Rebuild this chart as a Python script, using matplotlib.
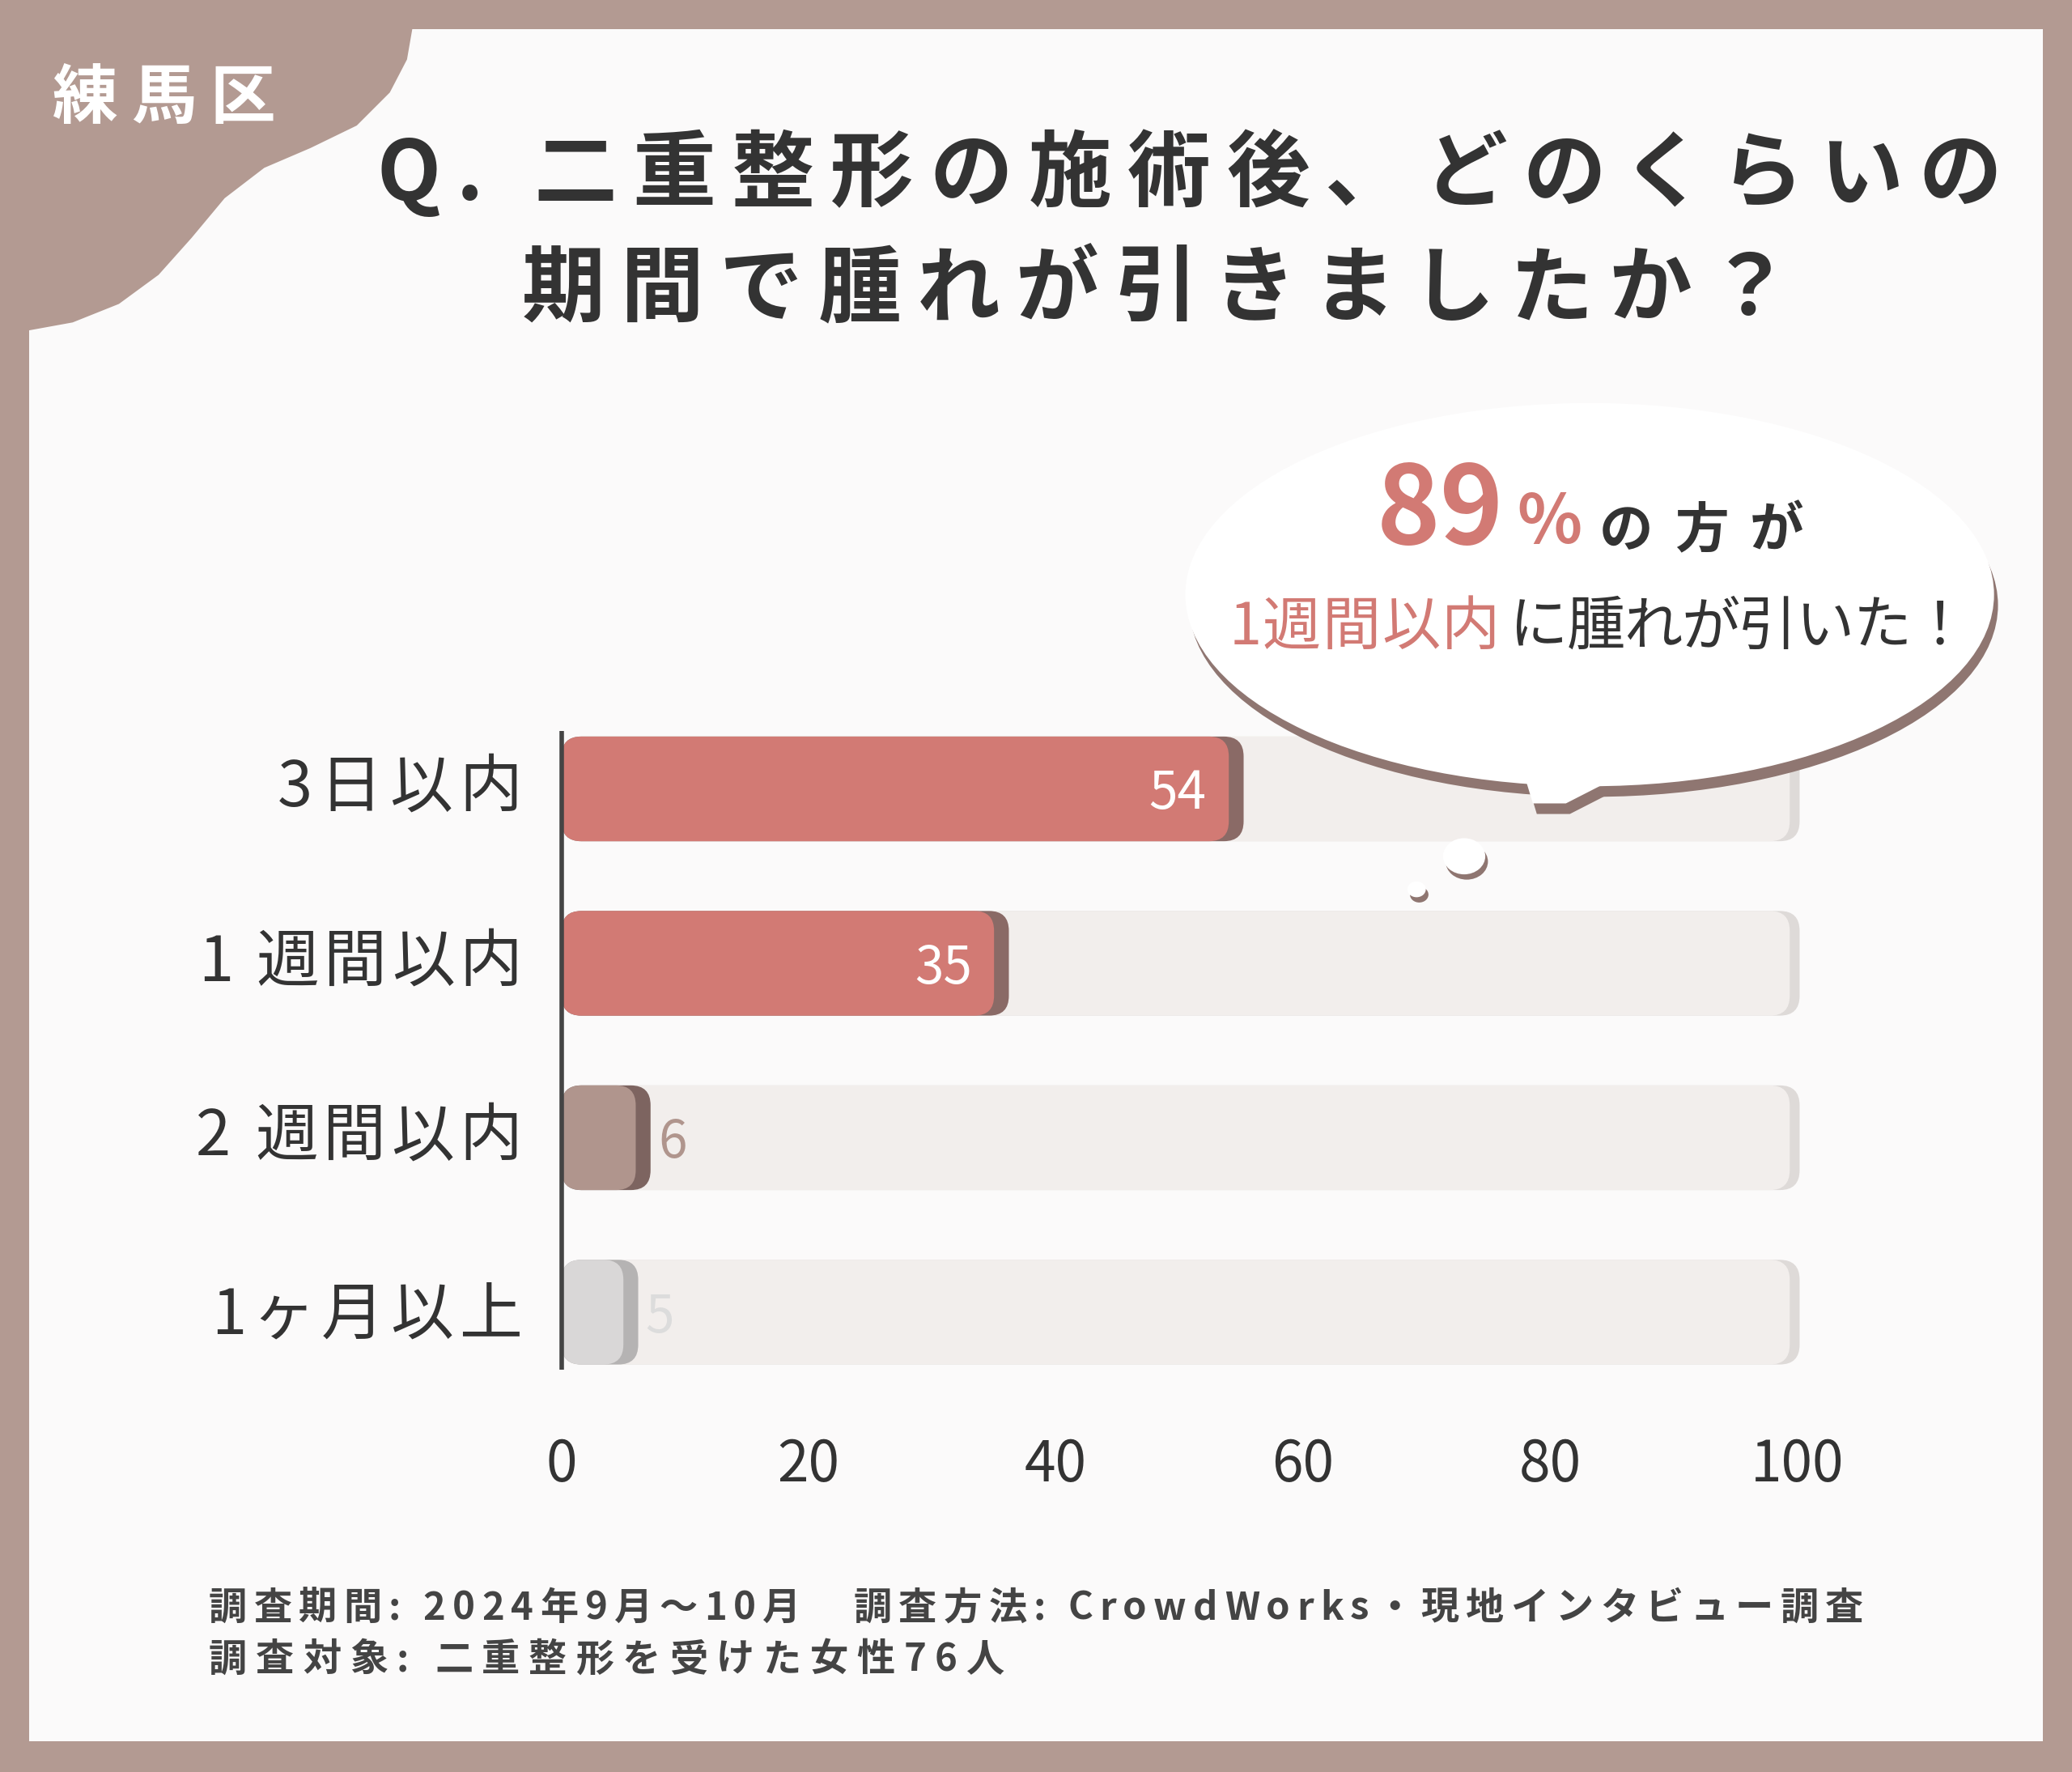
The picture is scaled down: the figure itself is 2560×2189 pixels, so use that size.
import matplotlib
matplotlib.use("Agg")
import matplotlib.pyplot as plt
from matplotlib.patches import FancyBboxPatch, Rectangle, Circle, Ellipse, Polygon
import numpy as np

categories = ["3日以内", "1 週間以内", "2 週間以内", "1ヶ月以上"]
values = [54, 35, 6, 5]
xticks = [0, 20, 40, 60, 80, 100]
title_lines = ["Q. 二重整形の施術後、どのくらいの", "期間で腫れが引きましたか？"]
footer = ["調査期間: 2024年9月～10月   調査方法: CrowdWorks・現地インタビュー調査",
          "調査対象: 二重整形を受けた女性76人"]

FONT = "Noto Sans CJK JP"
plt.rcParams["font.family"] = FONT
W, H = 1568, 1341
fig = plt.figure(figsize=(25.6, 21.89), dpi=100)
FR = "#b39a92"
fig.patch.set_facecolor(FR)
R = fig.canvas.get_renderer()
FW = fig.get_figwidth() * fig.dpi

def fx(x): return x / W
def fy(y): return 1 - y / H

def spaced(x0, y, s, size, x1=None, gap=0.0, **kw):
    ts, ws = [], []
    for ch in s:
        t = fig.text(0, fy(y), ch, fontsize=size, ha="left", va="center", **kw)
        w = t.get_window_extent(R).width / FW * W
        ts.append(t); ws.append(w)
    n = len(s)
    if x1 is not None and n > 1:
        gap = (x1 - x0 - sum(ws)) / (n - 1)
    x = x0
    for t, w in zip(ts, ws):
        t.set_x(fx(x))
        x += w + gap
    return x

fig.patches.append(Rectangle((fx(22), fy(1318)), fx(1546) - fx(22), fy(22) - fy(1318),
                             transform=fig.transFigure, facecolor="#fbfafa", edgecolor="none", zorder=0))
blob = [(22, 22), (312, 22), (308, 45), (295, 70), (270, 95), (235, 112), (200, 127), (170, 150),
        (145, 180), (120, 208), (90, 230), (55, 244), (22, 250)]
fig.patches.append(Polygon([(fx(a), fy(b)) for a, b in blob], closed=True, transform=fig.transFigure,
                           facecolor=FR, edgecolor="none", zorder=1))
spaced(40, 75, "練馬区", 58, x1=208, color="white", fontweight="bold", zorder=2)

spaced(285, 133, title_lines[0], 74, x1=1515, color="#333333", fontweight="bold", zorder=2)
spaced(395, 220, title_lines[1], 74, x1=1355, color="#333333", fontweight="bold", zorder=2)

left, right = fx(425), fx(1360)
top, bottom = fy(531), fy(1059)
ax = fig.add_axes([left, bottom, right - left, top - bottom])
ax.set_zorder(3)
ax.set_xlim(0, 100)
ax.set_ylim(3.5, -0.5)
ax.axis("off")
ax.patch.set_alpha(0)

aspect = (15 / 132) / 1.6
bh = 0.6
cols = ["#d27a74", "#d27a74", "#b0958d", "#d9d7d7"]
shad = ["#8a6a66", "#8a6a66", "#7d6460", "#b5b3b3"]
for i, v in enumerate(values):
    y0 = i - bh / 2
    ax.add_patch(FancyBboxPatch((0, y0), 100.2, bh, boxstyle="round,pad=0,rounding_size=1.6",
                                mutation_aspect=aspect, facecolor="#dedad8", edgecolor="none", zorder=1, clip_on=False))
    ax.add_patch(FancyBboxPatch((0, y0), 99.4, bh, boxstyle="round,pad=0,rounding_size=1.6",
                                mutation_aspect=aspect, facecolor="#f2eeec", edgecolor="none", zorder=1.5, clip_on=False))
    ax.add_patch(FancyBboxPatch((0, y0), v + 1.2, bh, boxstyle="round,pad=0,rounding_size=1.6",
                                mutation_aspect=aspect, facecolor=shad[i], edgecolor="none", zorder=2))
    ax.add_patch(FancyBboxPatch((0, y0), v, bh, boxstyle="round,pad=0,rounding_size=1.6",
                                mutation_aspect=aspect, facecolor=cols[i], edgecolor="none", zorder=3))
    if v > 20:
        ax.text(v - 1.8, i + 0.03, str(v), color="white", fontsize=46, ha="right", va="center", zorder=5)
    else:
        ax.text(v + 1.8, i + 0.03, str(v), color=["", "", "#b0958d", "#dcdcdc"][i], fontsize=46,
                ha="left", va="center", zorder=5)
ax.plot([0, 0], [-0.33, 3.33], color="#444444", lw=4, zorder=6, solid_capstyle="butt", clip_on=False)
for t in xticks:
    ax.text(t, 3.88, str(t), fontsize=50, color="#333333", ha="center", va="center", clip_on=False)

label_left = [210, 150, 148, 160]
label_y = [597, 729, 861, 996]
for i, c in enumerate(categories):
    spaced(label_left[i], label_y[i], c, 56, x1=395, color="#333333", zorder=4)

def bub(dx, dy, c, z):
    fig.patches.append(Ellipse((fx(1203 + dx), fy(450 + dy)), fx(612), 290 / H, transform=fig.transFigure,
                               facecolor=c, edgecolor="none", zorder=z))
    fig.patches.append(Polygon([(fx(1150 + dx), fy(575 + dy)), (fx(1160 + dx), fy(608 + dy)),
                                (fx(1185 + dx), fy(608 + dy)), (fx(1230 + dx), fy(585 + dy))],
                               transform=fig.transFigure, facecolor=c, edgecolor="none", zorder=z))
bub(3, 8, "#8f7671", 7)
bub(0, 0, "white", 8)
for (cx, cy, r) in [(1108, 648, 16), (1072, 673, 7)]:
    fig.patches.append(Circle((fx(cx + 2), fy(cy + 4)), r / W, transform=fig.transFigure, facecolor="#8f7671", zorder=7))
    fig.patches.append(Circle((fx(cx), fy(cy)), r / W, transform=fig.transFigure, facecolor="white", zorder=8))
RED = "#d27a74"
fig.text(fx(1042), fy(388), "89", color=RED, fontsize=96, fontweight="bold", ha="left", va="center", zorder=9)
fig.text(fx(1148), fy(396), "%", color=RED, fontsize=60, fontweight="bold", ha="left", va="center", zorder=9)
spaced(1210, 402, "の方が", 48, x1=1365, color="#333333", fontweight="bold", zorder=9)
spaced(930, 475, "1週間以内", 52, x1=1135, color=RED, zorder=9)
spaced(1142, 475, "に腫れが引いた！", 52, x1=1490, color="#333333", zorder=9)

spaced(158, 1217, footer[0], 34, x1=1410, color="#444444", fontweight="bold", zorder=2)
spaced(158, 1256, footer[1], 34, x1=760, color="#444444", fontweight="bold", zorder=2)

fig.savefig("out.png", dpi=100, facecolor=FR)
